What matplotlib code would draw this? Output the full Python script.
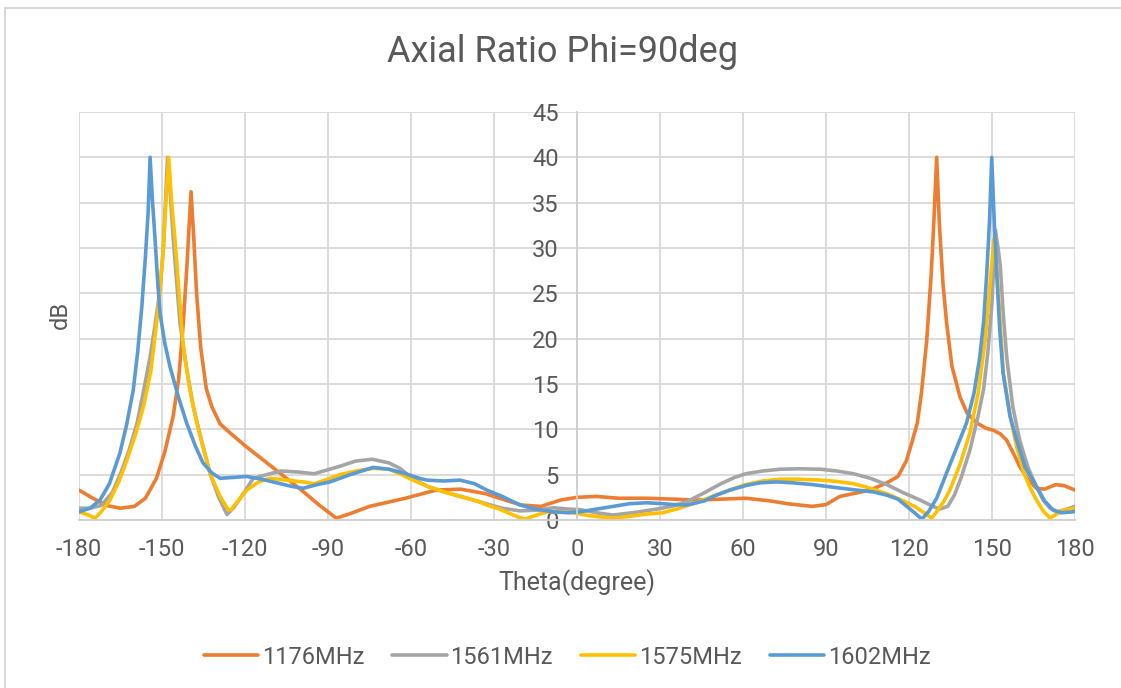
import matplotlib
matplotlib.use("Agg")
import matplotlib.pyplot as plt
from matplotlib.lines import Line2D

plt.rcParams['font.family'] = ['Roboto', 'DejaVu Sans']
plt.rcParams['axes.unicode_minus'] = False

series_names = ["1176MHz", "1561MHz", "1575MHz", "1602MHz"]
colors = ["#ED7D31", "#A5A5A5", "#FFC000", "#5B9BD5"]

theta_1176 = [-180, -175, -170, -165, -160, -156, -152, -149, -146, -144, -142.3, -141, -139.5, -138.5,
              -137.5, -136, -134, -132, -129, -125, -120, -110, -100, -93, -87, -82, -75, -62, -51, -42,
              -33, -25, -20, -13, -6, 0, 7, 15, 25, 35, 43, 52, 61, 70, 76, 85, 90, 95, 106, 112, 116,
              119, 121, 123, 124.5, 126.4, 128, 129, 130, 131, 132.3, 133.6, 135.5, 138.4, 141, 144.5,
              148, 150.5, 153, 155.3, 158, 160, 163, 166, 169, 173, 176, 180]
ar_1176 = [3.3, 2.4, 1.6, 1.3, 1.5, 2.4, 4.6, 7.5, 11.4, 15.5, 21.7, 28, 36.2, 31,
           25, 19, 14.5, 12.5, 10.6, 9.5, 8.2, 5.8, 3.4, 1.6, 0.2, 0.7, 1.5, 2.4, 3.3, 3.4,
           2.9, 2.1, 1.65, 1.5, 2.2, 2.5, 2.6, 2.4, 2.4, 2.3, 2.2, 2.3, 2.4, 2.1, 1.8, 1.5, 1.7, 2.6, 3.3, 4.1, 4.8,
           6.5, 8.5, 10.7, 14, 19.8, 27, 33, 40, 32.5, 26, 21.7, 17, 13.6, 11.8, 10.7,
           10.1, 9.9, 9.5, 8.8, 7.2, 5.9, 4.5, 3.5, 3.4, 3.9, 3.8, 3.3]

theta_1561 = [-180, -176, -172, -168, -165, -162, -159, -156.5, -154.3, -152.5, -150.7, -149.5, -148, -146.8,
              -145.9, -143.5, -141, -138.7, -135.5, -132.6, -129.5, -126.5, -124, -120.6, -117, -111, -107,
              -101, -95, -86, -80, -74, -68, -64, -60, -54, -48, -42, -33, -27, -20.6, -14, -8.6, -3, 1, 7,
              13, 20, 28.8, 34, 39.6, 46, 52, 57, 61, 67, 73.4, 80, 88, 94, 100, 106, 112, 118, 124, 128,
              131, 134, 136.5, 139, 142, 145, 147, 148.5, 150, 151.2, 152.2, 153, 154, 155.3, 157.5, 160,
              163, 166, 168.5, 171, 173.4, 176, 180]
ar_1561 = [1.3, 1.3, 1.6, 3.0, 5.1, 7.6, 10.7, 14.5, 18, 21.5, 25.4, 30, 40, 35,
           30.9, 21.7, 16.5, 12.5, 8.5, 5.1, 2.5, 0.6, 1.4, 2.9, 4.6, 5.1, 5.4,
           5.3, 5.1, 5.9, 6.5, 6.7, 6.3, 5.7, 4.7, 3.7, 3.1, 2.6, 1.8, 1.3, 1.0, 1.1, 1.35, 1.2, 1.15, 0.8,
           0.55, 0.8, 1.2, 1.5, 2.0, 3.0, 4.0, 4.7, 5.1, 5.4, 5.6, 5.65, 5.6, 5.4, 5.1, 4.6, 3.9, 3.0, 2.2, 1.6,
           1.2, 1.5, 2.8, 4.8, 7.7, 11.5, 14.5, 18.5, 24, 32, 30, 28, 23, 18, 12.5, 8.8,
           5.8, 3.7, 2.2, 1.3, 0.9, 1.1, 1.5]

theta_1575 = [-180, -177, -174.2, -172, -168.8, -165.5, -162.7, -159.5, -156.7, -154, -151.3, -149.5, -148.6,
              -147.6, -146.5, -145.3, -143.7, -142.3, -140, -137.4, -135, -132.6, -129, -126, -125, -122,
              -119.4, -115, -111, -105, -99, -95, -90, -85.7, -80, -73.6, -68, -64, -60, -54, -48, -42.3,
              -36, -32.6, -28, -24.2, -21, -18.8, -15, -11, -6, -1.3, 4, 8, 13, 19, 25, 31, 37, 43, 49, 55,
              61, 67, 73.4, 80, 88, 94, 100, 106, 112, 118, 122, 125, 128.2, 130, 132.5, 134.8, 138.5, 142,
              145, 147.5, 149, 150.7, 151.7, 152.7, 154.1, 156.5, 158.9, 161.5, 164, 166.1, 168.5, 171, 173,
              175.8, 180]
ar_1575 = [0.9, 0.6, 0.2, 0.9, 2.2, 4.3, 6.6, 9.5, 12.5, 16.5, 23.5, 30, 35,
           40, 35, 30.9, 24.5, 19.1, 14.5, 10.7, 7.8, 5.1, 2.6, 1.1, 1.15, 2.3,
           3.3, 4.2, 4.6, 4.4, 4.2, 4.0, 4.5, 5.0, 5.4, 5.7, 5.6, 5.1, 4.5, 3.7, 3.1, 2.6,
           2.1, 1.65, 1.2, 0.7, 0.3, 0.1, 0.5, 0.9, 0.9, 0.8, 0.5, 0.35, 0.2, 0.4, 0.65, 0.8, 1.3, 1.9, 2.6, 3.3,
           3.9, 4.3, 4.5, 4.5, 4.4, 4.25, 4.0, 3.5, 2.9, 2.1, 1.5, 0.9, 0.2, 0.9, 2.0, 3.3, 6.2, 9.6,
           14, 19.8, 25, 31, 28, 23, 16.2, 11.5, 8.1, 5.2, 3.4, 2.2, 1.0, 0.2, 0.6,
           1.1, 1.3]

theta_1602 = [-180, -176, -172.4, -169, -165.2, -162.8, -160.4, -158.8, -157.3, -156, -155, -154.3, -153.4,
              -152.5, -151.5, -150.7, -149, -147.1, -144, -141.1, -138, -135.2, -132, -129, -124, -119.4,
              -114, -108.5, -103, -99, -94, -89.3, -82, -73.7, -68, -62.9, -57, -54.3, -48, -42.3, -37,
              -32.6, -27, -20.6, -15, -8.6, -3, 1, 7, 13, 19, 25.2, 31, 35, 39.6, 46, 50, 55.3, 61, 66,
              72.2, 78, 85.3, 93, 101, 107, 111.9, 116, 119.2, 122, 124.6, 127, 130, 133.6, 137, 140.8,
              143.5, 145.6, 147, 148.1, 149.1, 149.9, 150.8, 151.7, 152.8, 154, 156.5, 158.9, 162, 166.1,
              169, 172.1, 175, 179.3, 180]
ar_1602 = [0.9, 1.3, 2.2, 4.0, 7.4, 10.5, 14.3, 18.5, 23.5, 29, 34, 40, 35,
           30.9, 26, 22.8, 19.5, 16.9, 13.5, 10.7, 8.2, 6.3, 5.2, 4.6, 4.7, 4.8,
           4.5, 4.1, 3.7, 3.5, 3.9, 4.2, 5.0, 5.8, 5.6, 5.2, 4.6, 4.4, 4.3, 4.4, 4.0,
           3.3, 2.6, 1.65, 1.2, 0.9, 0.8, 0.9, 1.2, 1.5, 1.8, 1.9, 1.8, 1.7, 1.65, 2.1, 2.7, 3.3, 3.8, 4.1,
           4.2, 4.1, 3.9, 3.6, 3.3, 3.1, 2.75, 2.3, 1.5, 0.8, 0.1, 0.9, 2.4, 5.2, 7.8, 10.7,
           14, 18, 22, 27.2, 33, 40, 33, 27.2, 21, 16.2, 11.5, 8.8, 5.8, 3.7,
           2.1, 1.1, 0.8, 0.9, 1.0]

x_ticks = list(range(-180, 181, 30))
y_ticks = list(range(0, 46, 5))

W, H = 1121, 688
fig = plt.figure(figsize=(W / 100, H / 100), dpi=100)
ax = fig.add_axes([79 / W, 1 - 520 / H, (1075 - 79) / W, (520 - 112) / H])

text_color = "#595959"
grid_color = "#D9D9D9"

data = [(theta_1176, ar_1176), (theta_1561, ar_1561), (theta_1575, ar_1575), (theta_1602, ar_1602)]
for (th, ar), name, c in zip(data, series_names, colors):
    ax.plot(th, ar, color=c, lw=2.6, label=name, solid_capstyle='round', solid_joinstyle='round')

ax.set_xlim(-180, 180)
ax.set_ylim(0, 45)
ax.set_xticks(x_ticks)
ax.set_yticks(y_ticks)
ax.grid(True, color=grid_color, lw=1.3)
ax.set_axisbelow(True)
for s in ['top', 'right']:
    ax.spines[s].set_visible(False)
ax.spines['left'].set_position(('data', 0))
ax.spines['left'].set_color("#CFCFCF")
ax.spines['left'].set_linewidth(1.3)
ax.spines['bottom'].set_color("#CFCFCF")
ax.spines['bottom'].set_linewidth(1.3)
ax.tick_params(axis='both', length=0, labelsize=17, labelcolor=text_color)
ax.tick_params(axis='x', pad=13)
ax.tick_params(axis='y', pad=13)

fig.text(563 / W, 1 - 52 / H, "Axial Ratio Phi=90deg", ha='center', va='center',
         fontsize=26, color=text_color)
fig.text(577 / W, 1 - 583 / H, "Theta(degree)", ha='center', va='center',
         fontsize=18, color=text_color)
fig.text(60 / W, 1 - 315 / H, "dB", ha='center', va='center', rotation=90,
         fontsize=17, color=text_color)

leg = fig.legend(loc='center', bbox_to_anchor=(567 / W, 1 - 657 / H), ncol=4, frameon=False,
                 fontsize=17, handlelength=2.3, columnspacing=1.2, handletextpad=0.15,
                 labelcolor=text_color)

# chart frame
fig.add_artist(Line2D([4.5 / W, 4.5 / W], [0, 1 - 8 / H], transform=fig.transFigure,
                      color="#D9D9D9", lw=1.5))
fig.add_artist(Line2D([4.5 / W, 1], [1 - 8 / H, 1 - 8 / H], transform=fig.transFigure,
                      color="#D9D9D9", lw=1.5))

fig.savefig("out.png", dpi=100)
